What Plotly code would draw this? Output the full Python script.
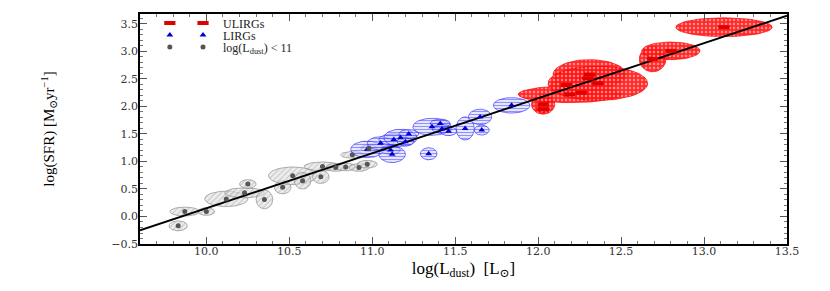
import numpy as np
import plotly.graph_objects as go

# ---------------- data ----------------
# log(L_dust) < 11 sample
GRAY_X  = [9.83, 9.87, 10.00, 10.12, 10.23, 10.25, 10.35, 10.46, 10.52, 10.58, 10.69, 10.70, 10.78, 10.84, 10.92, 10.97, 10.88, 10.98]
GRAY_Y  = [-0.17, 0.09, 0.09, 0.32, 0.43, 0.59, 0.31, 0.53, 0.74, 0.65, 0.72, 0.91, 0.89, 0.90, 0.89, 0.95, 1.12, 1.24]
GRAY_EX = [0.055, 0.09, 0.05, 0.13, 0.12, 0.05, 0.05, 0.05, 0.145, 0.05, 0.05, 0.11, 0.06, 0.06, 0.06, 0.06, 0.07, 0.05]
GRAY_EY = [0.09, 0.08, 0.07, 0.14, 0.09, 0.08, 0.17, 0.12, 0.16, 0.15, 0.12, 0.08, 0.07, 0.07, 0.07, 0.07, 0.06, 0.06]

# LIRGs
LIRG_X  = [10.97, 11.05, 11.11, 11.12, 11.13, 11.17, 11.20, 11.22, 11.34, 11.36, 11.41, 11.42, 11.46, 11.56, 11.65, 11.66, 11.84]
LIRG_Y  = [1.22, 1.33, 1.21, 1.13, 1.40, 1.43, 1.36, 1.50, 1.14, 1.63, 1.69, 1.59, 1.55, 1.60, 1.81, 1.57, 2.02]
LIRG_EX = [0.10, 0.08, 0.06, 0.08, 0.09, 0.10, 0.05, 0.06, 0.05, 0.115, 0.06, 0.06, 0.05, 0.055, 0.07, 0.045, 0.11]
LIRG_EY = [0.15, 0.12, 0.08, 0.15, 0.10, 0.155, 0.08, 0.08, 0.11, 0.155, 0.08, 0.08, 0.08, 0.21, 0.14, 0.09, 0.14]

# ULIRGs
ULIRG_X  = [12.03, 12.03, 12.19, 12.26, 12.17, 12.31, 12.30, 12.36, 12.69, 12.80, 13.12]
ULIRG_Y  = [2.04, 1.95, 2.22, 2.25, 2.39, 2.58, 2.51, 2.42, 2.86, 3.01, 3.44]
ULIRG_EX = [0.07, 0.04, 0.31, 0.08, 0.10, 0.22, 0.05, 0.30, 0.08, 0.175, 0.29]
ULIRG_EY = [0.18, 0.06, 0.15, 0.10, 0.10, 0.27, 0.08, 0.31, 0.23, 0.16, 0.17]

# linear relation log(SFR) = a*log(L) + b
FIT_RANGE = [9.6, 13.5]
FIT_SLOPE = 1.0
FIT_INTERCEPT = -9.85

X_TICKS = [10.0, 10.5, 11.0, 11.5, 12.0, 12.5, 13.0, 13.5]
Y_TICKS = [-0.5, 0.0, 0.5, 1.0, 1.5, 2.0, 2.5, 3.0, 3.5]

# ---------------- figure ----------------
fig = go.Figure()
theta = np.linspace(0, 2 * np.pi, 60)


def add_ellipses(xs, ys, exs, eys, line_color, pattern):
    for cx, cy, rx, ry in zip(xs, ys, exs, eys):
        fig.add_trace(go.Scatter(
            x=cx + rx * np.cos(theta), y=cy + ry * np.sin(theta),
            mode="lines", fill="toself",
            line=dict(color=line_color, width=0.8),
            fillcolor="rgba(0,0,0,0)",
            fillpattern=pattern,
            showlegend=False, hoverinfo="skip"))


add_ellipses(GRAY_X, GRAY_Y, GRAY_EX, GRAY_EY, "rgba(130,130,130,0.8)",
             dict(shape="/", fgcolor="rgba(120,120,120,0.7)", bgcolor="rgba(225,225,225,0.6)",
                  size=4, solidity=0.25))
add_ellipses(LIRG_X, LIRG_Y, LIRG_EX, LIRG_EY, "rgba(40,40,255,0.8)",
             dict(shape="-", fgcolor="rgba(30,30,255,0.85)", bgcolor="rgba(200,200,255,0.45)",
                  size=3, solidity=0.35))
add_ellipses(ULIRG_X, ULIRG_Y, ULIRG_EX, ULIRG_EY, "rgba(255,0,0,0.9)",
             dict(shape=".", fgcolor="rgba(255,255,255,0.9)", bgcolor="rgba(255,20,20,0.9)",
                  size=4, solidity=0.3))

fx = np.array(FIT_RANGE)
fig.add_trace(go.Scatter(x=fx, y=FIT_SLOPE * fx + FIT_INTERCEPT, mode="lines",
                         line=dict(color="black", width=2), showlegend=False, hoverinfo="skip"))

ULIRG_MARK = dict(symbol="line-ew", size=8, color="#e00000", line=dict(color="#e00000", width=4))
LIRG_MARK = dict(symbol="triangle-up", size=6, color="#0000cc")
GRAY_MARK = dict(symbol="circle", size=5, color="#555555")

font = "Liberation Serif, DejaVu Serif, serif"
leg_common = dict(xanchor="left", yanchor="middle", yref="container", bgcolor="rgba(0,0,0,0)",
                  font=dict(family=font, size=12, color="#222222"), itemwidth=30)

groups = [
    (0.921, ULIRG_X, ULIRG_Y, ULIRG_MARK, "ULIRGs"),
    (0.8797, LIRG_X, LIRG_Y, LIRG_MARK, "LIRGs"),
    (0.8385, GRAY_X, GRAY_Y, GRAY_MARK, "log(L<sub>dust</sub>) &lt; 11"),
]
legend_layout = {}
for i, (ly, xs, ys, mk, name) in enumerate(groups):
    lead = "legend" if i == 0 else f"legend{2 * i + 1}"
    main = f"legend{2 * i + 2}"
    legend_layout[lead] = dict(x=0.0152, y=ly, **leg_common)
    legend_layout[main] = dict(x=0.0665, y=ly, **leg_common)
    # first legend symbol (matplotlib-style numpoints=2)
    fig.add_trace(go.Scatter(x=[None], y=[None], mode="markers", name="", marker=mk,
                             legend=lead, showlegend=True, hoverinfo="skip"))
    fig.add_trace(go.Scatter(x=xs, y=ys, mode="markers", name=name, marker=mk, legend=main))

tickfont = dict(family="DejaVu Serif, serif", size=11, color="#333333")
axis_common = dict(showline=True, linecolor="black", linewidth=1.5, mirror="allticks",
                   ticks="inside", ticklen=7, tickwidth=1, tickcolor="#555555",
                   showgrid=False, zeroline=False, tickfont=tickfont,
                   minor=dict(ticks="inside", ticklen=3.5, tickcolor="#777777", dtick=0.1, showgrid=False))

fig.update_xaxes(range=[9.6, 13.5], tickvals=X_TICKS, ticktext=[f"{v:.1f}" for v in X_TICKS],
                 ticklabelstandoff=-4,
                 title=dict(text="log(L<sub>dust</sub>)  [L<sub>⊙</sub>]",
                            font=dict(family=font, size=17, color="black"), standoff=5),
                 **axis_common)
fig.update_yaxes(range=[-0.5, 3.68], tickvals=Y_TICKS,
                 ticktext=[f"{v:.1f}".replace("-", "−") for v in Y_TICKS],
                 ticklabelstandoff=-2,
                 title=dict(text="log(SFR) [M<sub>⊙</sub>yr<sup>−1</sup>]",
                            font=dict(family=font, size=15, color="black"), standoff=53),
                 **axis_common)

fig.update_layout(
    width=830, height=291,
    margin=dict(l=140, r=43, t=14, b=47, autoexpand=False),
    plot_bgcolor="white", paper_bgcolor="white",
    font=dict(family=font),
    **legend_layout,
)

fig.write_html("out.html", config={"displayModeBar": False},
               post_script="document.body.style.margin='0';")
